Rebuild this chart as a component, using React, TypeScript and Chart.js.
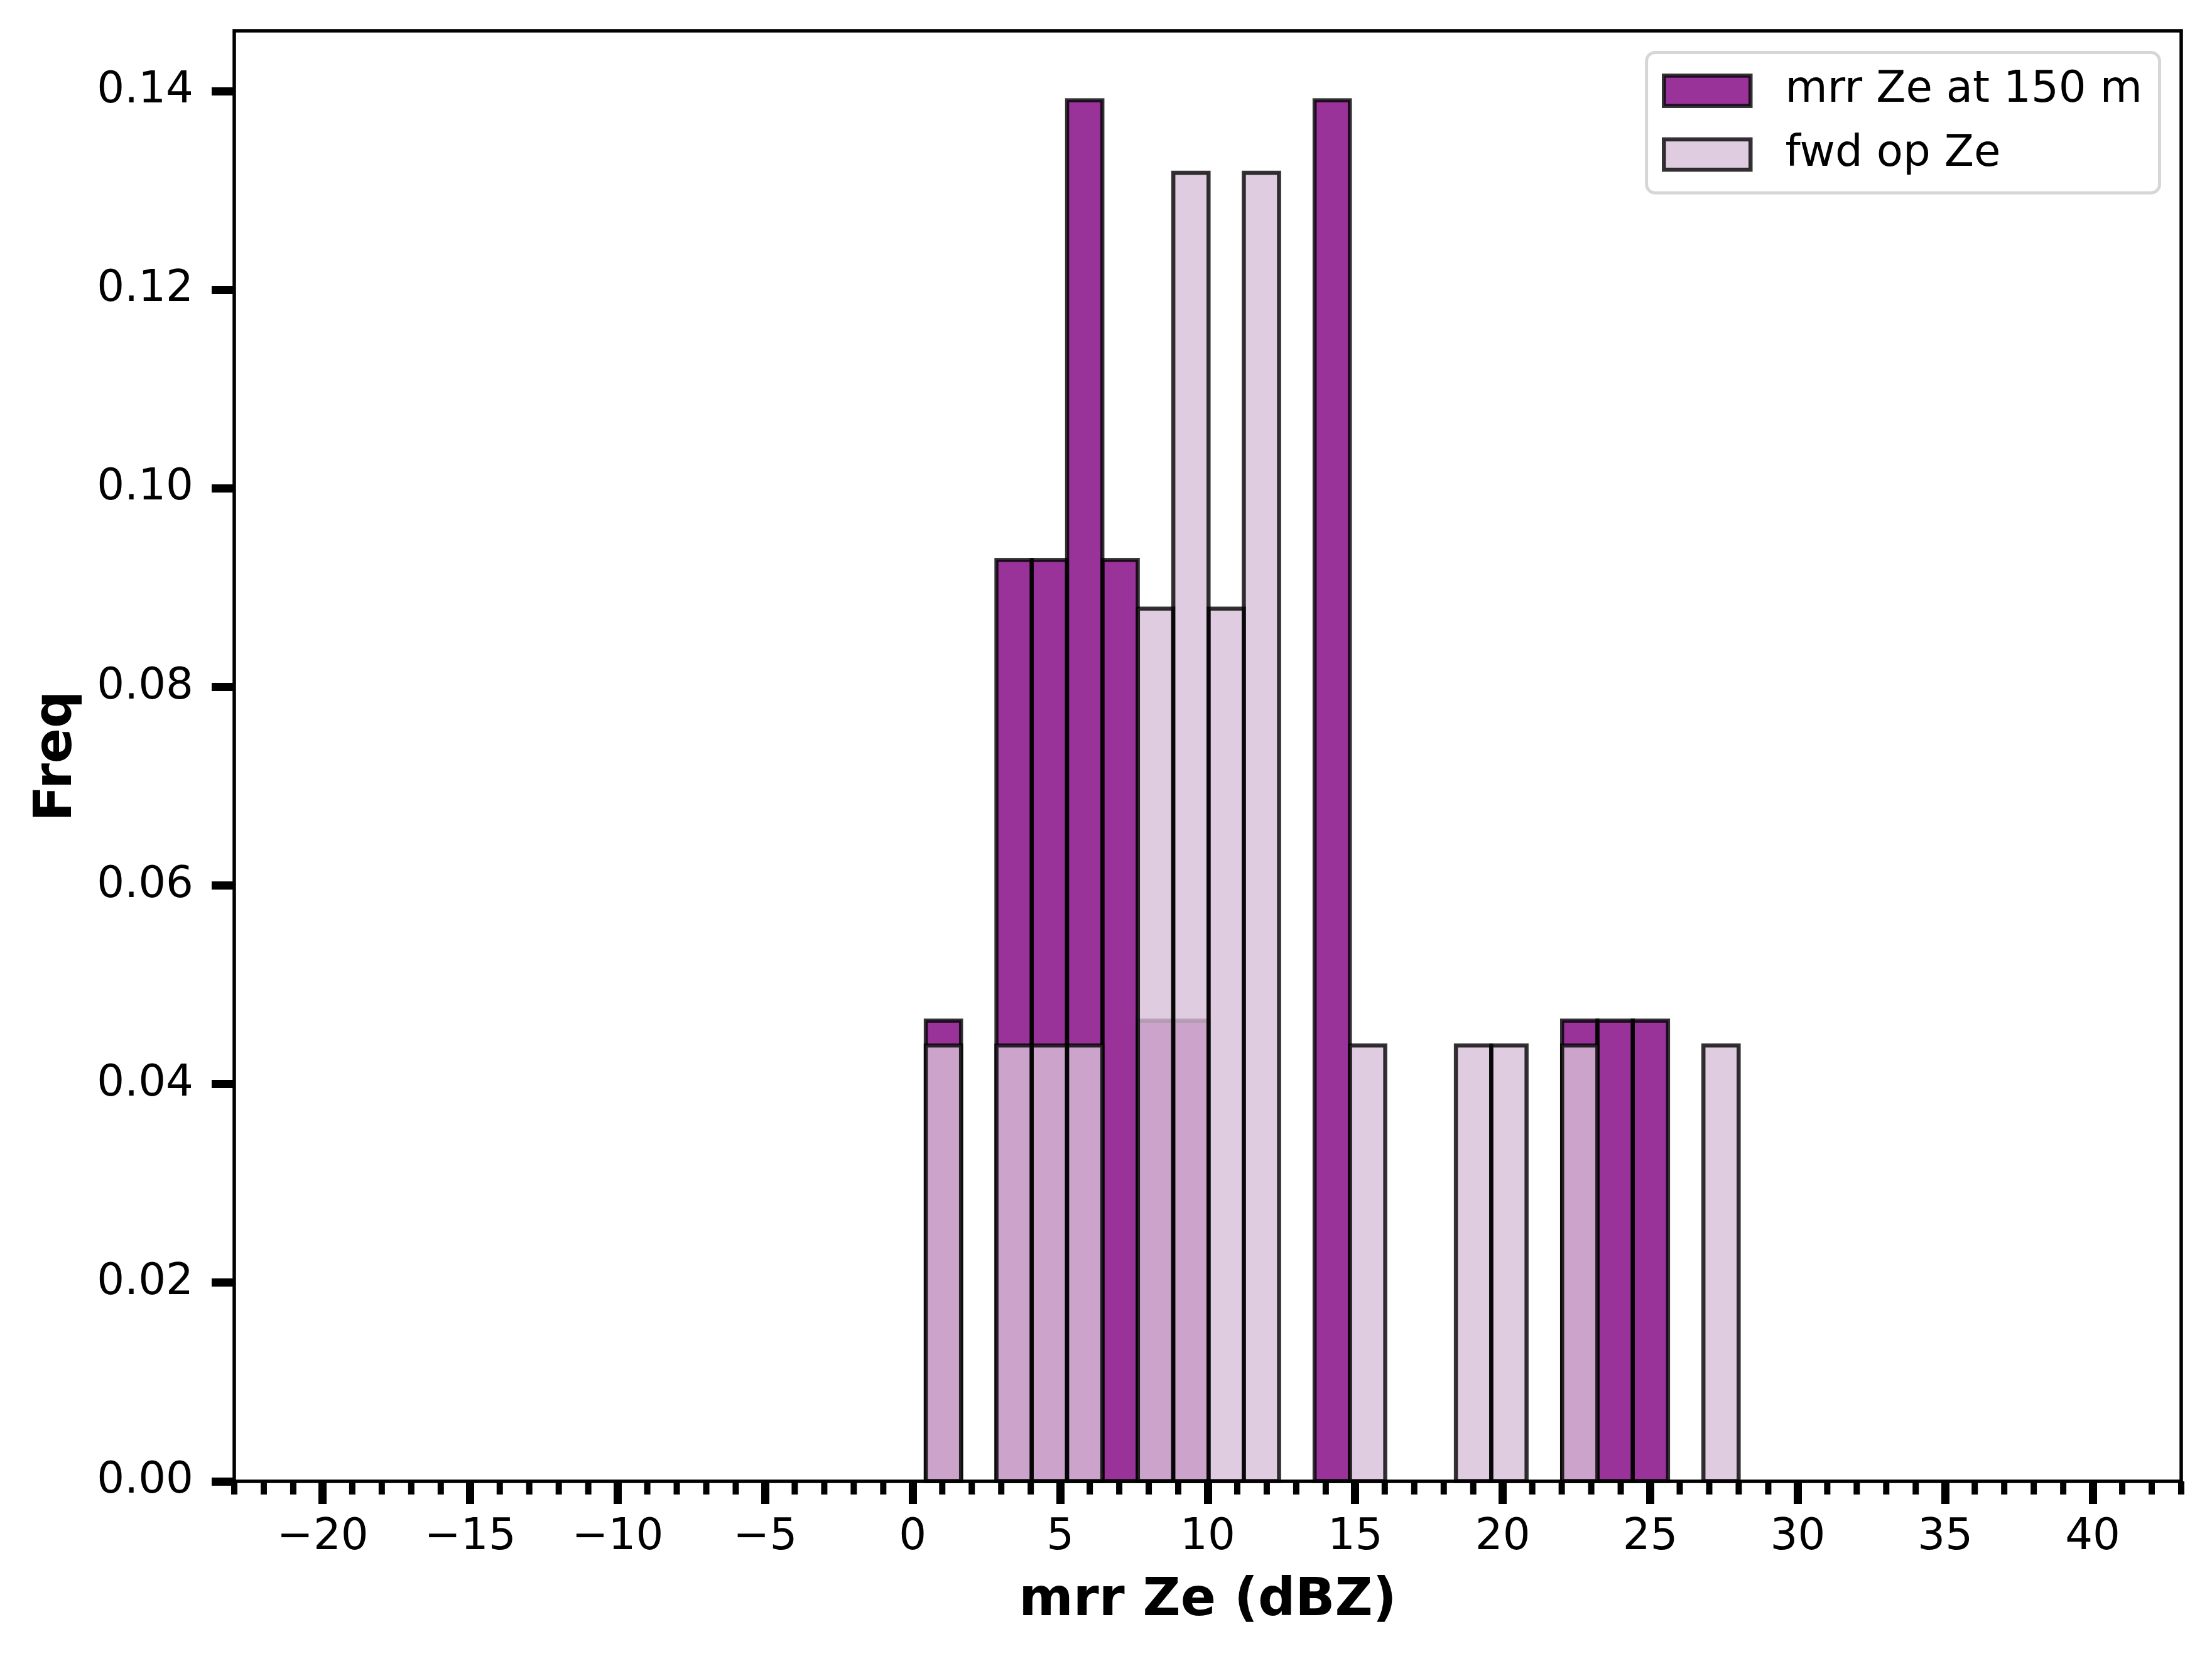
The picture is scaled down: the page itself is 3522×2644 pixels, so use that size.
import { useEffect, useRef } from "react";
import { BarController, BarElement, Chart, LinearScale, type ChartConfiguration, type Plugin } from "chart.js";

Chart.register(BarController, BarElement, LinearScale);

// histogram bins (dBZ), shared by both series
const BIN_EDGES = [
  0.44, 1.64, 2.84, 4.03, 5.23, 6.43, 7.63, 8.83, 10.03, 11.22, 12.42, 13.62, 14.82, 16.02, 17.22, 18.41,
  19.61, 20.81, 22.01, 23.21, 24.41, 25.6, 26.8, 28.0
];
const MRR_FREQ = [
  0.0464, 0, 0.0928, 0.0928, 0.1391, 0.0928, 0.0464, 0.0464, 0, 0, 0, 0.1391, 0, 0, 0, 0, 0, 0, 0.0464,
  0.0464, 0.0464, 0, 0
];
const FWD_FREQ = [
  0.0439, 0, 0.0439, 0.0439, 0.0439, 0, 0.0879, 0.1318, 0.0879, 0.1318, 0, 0, 0.0439, 0, 0, 0.0439, 0.0439,
  0, 0.0439, 0, 0, 0, 0.0439
];
const SERIES_LABELS = ["mrr Ze at 150 m", "fwd op Ze"];

const X_MAJOR_TICKS = [-20, -15, -10, -5, 0, 5, 10, 15, 20, 25, 30, 35, 40];
const Y_TICKS = [0, 0.02, 0.04, 0.06, 0.08, 0.1, 0.12, 0.14];
const X_MIN = -23;
const X_MAX = 43;
const Y_MAX = 0.1461;

const FONT = "DejaVu Sans";
const FS = 69;
const EDGE = "rgba(0,0,0,0.8)";
const EDGE_W = 6.5;

const centers = BIN_EDGES.slice(0, -1).map((e, i) => (e + BIN_EDGES[i + 1]) / 2);
const toPoints = (vals: number[]) =>
  centers.map((x, i) => ({ x, y: vals[i] })).filter((p) => p.y > 0);

const fmtX = (v: number) => (v < 0 ? "\u2212" + Math.abs(v) : String(v));

// matplotlib style edges: stroke centred on the bin outline, drawn right after each dataset
const histEdges: Plugin<"bar"> = {
  id: "histEdges",
  afterDatasetDraw(chart, args) {
    const ctx = chart.ctx;
    ctx.save();
    ctx.strokeStyle = EDGE;
    ctx.lineWidth = EDGE_W;
    for (const bar of args.meta.data as any[]) {
      const { x, y, base, width } = bar.getProps(["x", "y", "base", "width"], true);
      if (!isFinite(y)) continue;
      ctx.strokeRect(x - width / 2, y, width, base - y);
    }
    ctx.restore();
  }
};

// minor x ticks, axes frame and the boxed legend
const decorations: Plugin<"bar"> = {
  id: "decorations",
  afterDraw(chart) {
    const { ctx, chartArea: a } = chart;
    const xs = chart.scales.x;
    ctx.save();
    ctx.strokeStyle = "#000";
    ctx.lineWidth = 10;
    for (let v = Math.ceil(xs.min); v <= xs.max; v++) {
      if (v % 5 === 0) continue;
      const px = xs.getPixelForValue(v);
      ctx.beginPath();
      ctx.moveTo(px, a.bottom);
      ctx.lineTo(px, a.bottom + 21);
      ctx.stroke();
    }
    ctx.lineWidth = 5.5;
    ctx.strokeRect(a.left, a.top, a.right - a.left, a.bottom - a.top);

    // legend
    const ds = chart.data.datasets;
    ctx.font = `${FS}px "${FONT}"`;
    const textW = Math.max(...ds.map((d) => ctx.measureText(String(d.label)).width));
    const pad = 0.4 * FS;
    const handleW = 2 * FS;
    const handleH = 0.7 * FS;
    const gap = 0.8 * FS;
    const rowH = 0.97 * FS;
    const spacing = 0.5 * FS;
    const w = pad * 2 + handleW + gap + textW;
    const h = pad * 2 + ds.length * rowH + (ds.length - 1) * spacing;
    const right = a.right - 0.5 * FS;
    const top = a.top + 0.5 * FS;
    const left = right - w;
    ctx.beginPath();
    ctx.roundRect(left, top, w, h, 0.2 * FS);
    ctx.fillStyle = "rgba(255,255,255,0.8)";
    ctx.fill();
    ctx.strokeStyle = "rgba(204,204,204,0.8)";
    ctx.lineWidth = 5;
    ctx.stroke();
    ds.forEach((d, i) => {
      const cy = top + pad + rowH / 2 + i * (rowH + spacing);
      ctx.fillStyle = d.backgroundColor as string;
      ctx.fillRect(left + pad, cy - handleH / 2, handleW, handleH);
      ctx.strokeStyle = EDGE;
      ctx.lineWidth = EDGE_W;
      ctx.strokeRect(left + pad, cy - handleH / 2, handleW, handleH);
      ctx.fillStyle = "#000";
      ctx.textBaseline = "middle";
      ctx.textAlign = "left";
      ctx.fillText(String(d.label), left + pad + handleW + gap, cy);
    });
    ctx.restore();
  }
};

const tickGrid = {
  display: true,
  drawOnChartArea: false,
  drawTicks: true,
  tickLength: 36,
  tickWidth: 13,
  tickColor: "#000"
};

const config: ChartConfiguration<"bar"> = {
  type: "bar",
  data: {
    datasets: [
      {
        label: SERIES_LABELS[0],
        data: toPoints(MRR_FREQ) as any,
        backgroundColor: "rgba(128,0,128,0.8)",
        borderWidth: 0,
        order: 2
      },
      {
        label: SERIES_LABELS[1],
        data: toPoints(FWD_FREQ) as any,
        backgroundColor: "rgba(216,191,216,0.8)",
        borderWidth: 0,
        order: 1
      }
    ]
  },
  options: {
    animation: false,
    responsive: false,
    devicePixelRatio: 1,
    events: [],
    layout: { padding: { top: 49, right: 49, left: 0, bottom: 0 } },
    datasets: { bar: { grouped: false, categoryPercentage: 1, barPercentage: 1 } },
    plugins: { legend: { display: false }, tooltip: { enabled: false } },
    scales: {
      x: {
        type: "linear",
        min: X_MIN,
        max: X_MAX,
        offset: false,
        grid: { ...tickGrid, offset: false },
        border: { display: false },
        afterBuildTicks: (scale) => {
          scale.ticks = X_MAJOR_TICKS.map((value) => ({ value }));
        },
        afterFit: (scale) => {
          scale.height = 286;
          scale.paddingLeft = 0;
          scale.paddingRight = 0;
        },
        ticks: {
          autoSkip: false,
          maxRotation: 0,
          minRotation: 0,
          padding: 13,
          color: "#000",
          font: { family: FONT, size: FS },
          callback: (v) => fmtX(Number(v))
        },
        title: {
          display: true,
          text: "mrr Ze (dBZ)",
          color: "#000",
          font: { family: FONT, size: 83, weight: "bold" },
          padding: { top: 0, bottom: 45 }
        }
      },
      y: {
        type: "linear",
        min: 0,
        max: Y_MAX,
        grid: tickGrid,
        border: { display: false },
        afterBuildTicks: (scale) => {
          scale.ticks = Y_TICKS.map((value) => ({ value }));
        },
        afterFit: (scale) => {
          scale.width = 373;
          scale.paddingTop = 0;
          scale.paddingBottom = 0;
        },
        ticks: {
          padding: 29,
          color: "#000",
          font: { family: FONT, size: FS },
          callback: (v) => Number(v).toFixed(2)
        },
        title: {
          display: true,
          text: "Freq",
          color: "#000",
          font: { family: FONT, size: 83, weight: "bold" },
          padding: { top: 42, bottom: 0 }
        }
      }
    }
  },
  plugins: [histEdges, decorations]
};

export default function App() {
  const ref = useRef<HTMLCanvasElement | null>(null);
  useEffect(() => {
    document.body.style.margin = "0";
    if (!ref.current) return;
    const chart = new Chart(ref.current, config);
    return () => chart.destroy();
  }, []);
  return (
    <div style={{ width: 3522, height: 2644, background: "#fff" }}>
      <canvas ref={ref} width={3522} height={2644} style={{ display: "block" }} />
    </div>
  );
}
